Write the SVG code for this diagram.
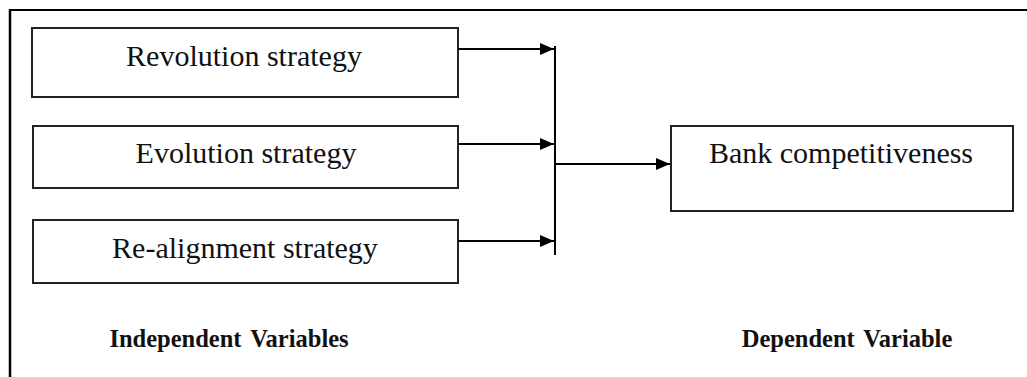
<svg xmlns="http://www.w3.org/2000/svg" width="1027" height="377" viewBox="0 0 1027 377">
<defs>
<style>
.box{fill:#fff;stroke:#222;stroke-width:2}
.lbl{font-family:"Liberation Serif","Times New Roman",serif;font-size:30px;fill:#111;text-anchor:middle}
.cap{font-family:"Liberation Serif","Times New Roman",serif;font-size:24.5px;font-weight:bold;fill:#111;text-anchor:middle;word-spacing:3px}
.conn{stroke:#000;stroke-width:2;fill:none}
</style>
<marker id="arr" viewBox="0 0 14 12" refX="14" refY="6" markerWidth="14" markerHeight="12" markerUnits="userSpaceOnUse" orient="auto">
<path d="M0,0 L14,6 L0,12 Z" fill="#000"/>
</marker>
</defs>
<rect width="1027" height="377" fill="#fff"/>
<g id="frame">
<line x1="10" y1="10" x2="1027" y2="10" stroke="#000" stroke-width="2"/>
<line x1="10" y1="9" x2="10" y2="377" stroke="#000" stroke-width="2.5"/>
</g>
<g id="revolution">
<rect class="box" x="32" y="28" width="426" height="69"/>
<text class="lbl" x="244" y="66">Revolution strategy</text>
</g>
<g id="evolution">
<rect class="box" x="33" y="126" width="425" height="62"/>
<text class="lbl" x="246" y="163">Evolution strategy</text>
</g>
<g id="realignment">
<rect class="box" x="33" y="220" width="425" height="63"/>
<text class="lbl" x="245" y="258">Re-alignment strategy</text>
</g>
<g id="bank">
<rect class="box" x="671" y="126" width="342" height="85"/>
<text class="lbl" x="841" y="163">Bank competitiveness</text>
</g>
<g id="connectors">
<line class="conn" x1="555" y1="46" x2="555" y2="255"/>
<line class="conn" x1="458" y1="49" x2="554" y2="49" marker-end="url(#arr)"/>
<line class="conn" x1="458" y1="144" x2="554" y2="144" marker-end="url(#arr)"/>
<line class="conn" x1="458" y1="241" x2="554" y2="241" marker-end="url(#arr)"/>
<line class="conn" x1="555" y1="164" x2="670" y2="164" marker-end="url(#arr)"/>
</g>
<g id="captions">
<text class="cap" x="229" y="347">Independent Variables</text>
<text class="cap" x="847" y="347">Dependent Variable</text>
</g>
</svg>
